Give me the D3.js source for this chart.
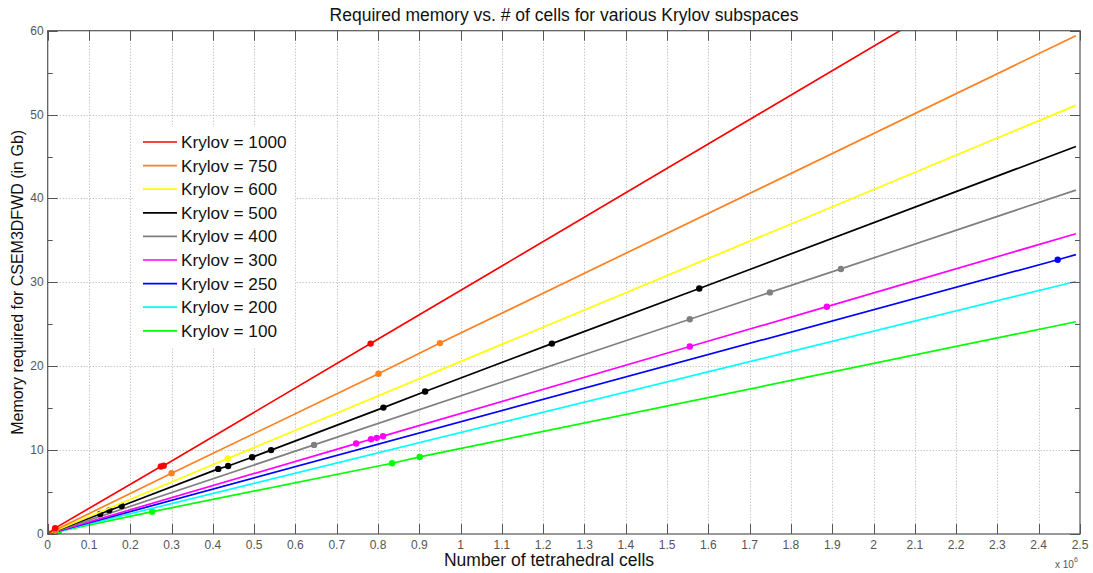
<!DOCTYPE html>
<html>
<head>
<meta charset="utf-8">
<script src="https://cdn.jsdelivr.net/npm/d3@7"></script>
<style>
  body { margin: 0; background: #fff; }
  text { font-family: "Liberation Sans", Arial, sans-serif; }
</style>
</head>
<body>
<div id="chart"></div>
<script>
"use strict";

// data ***********************************************************
var krylov = [1000, 750, 600, 500, 400, 300, 250, 200, 100];
var colors = ["#ff0000", "#ff8020", "#ffff00", "#000000", "#808080", "#ff00ff", "#0000ff", "#00ffff", "#00ff00"];

// y value at the end of each line (x = 2.49e6)
var endX = 2.49;
var endY = [72.4, 59.4, 51.1, 46.2, 41.0, 35.8, 33.3, 30.1, 25.3];

// measured points (x in millions of cells, y in Gb)
var markerX = [
  [0.018, 0.274, 0.281, 0.782],
  [0.020, 0.300, 0.801, 0.950],
  [0.436],
  [0.127, 0.149, 0.179, 0.413, 0.437, 0.495, 0.541, 0.813, 0.914, 1.221, 1.578],
  [0.645, 1.555, 1.749, 1.921],
  [0.747, 0.783, 0.797, 0.812, 1.555, 1.887],
  [2.446],
  [],
  [0.003, 0.027, 0.253, 0.834, 0.901]
];
var markerY = [
  [0.70, 8.05, 8.15, 22.7],
  [0.50, 7.24, 19.1, 22.76],
  [9.0],
  [2.39, 2.82, 3.34, 7.76, 8.11, 9.15, 10.0, 15.07, 16.98, 22.7, 29.27],
  [10.62, 25.6, 28.8, 31.6],
  [10.78, 11.3, 11.46, 11.66, 22.35, 27.1],
  [32.7],
  [],
  [0.05, 0.30, 2.66, 8.43, 9.19]
];

var xTicks = d3.range(0, 26).map(function(d) { return d / 10; });
var yTicks = [0, 10, 20, 30, 40, 50, 60];
var yMinor = [5, 15, 25, 35, 45, 55];

// layout *********************************************************
var width = 1093, height = 573;
var mLeft = 47.7, mRight = 1080, mTop = 30.7, mBottom = 534;
var axisColor = "#555";

var svg = d3.select("#chart").append("svg")
  .attr("width", width)
  .attr("height", height);

var x = d3.scaleLinear().domain([0, 2.5]).range([mLeft, mRight]);
var y = d3.scaleLinear().domain([0, 60]).range([mBottom, mTop]);

// grid
var grid = svg.append("g")
  .attr("stroke", "#b0b0b0")
  .attr("stroke-width", 1)
  .attr("stroke-dasharray", "1,2");
grid.selectAll(".gx").data(xTicks.slice(1, -1)).enter().append("line")
  .attr("x1", function(d) { return Math.round(x(d)) + 0.5; })
  .attr("x2", function(d) { return Math.round(x(d)) + 0.5; })
  .attr("y1", mTop).attr("y2", mBottom);
grid.selectAll(".gy").data(yTicks.slice(1, -1)).enter().append("line")
  .attr("y1", function(d) { return Math.round(y(d)) + 0.5; })
  .attr("y2", function(d) { return Math.round(y(d)) + 0.5; })
  .attr("x1", mLeft).attr("x2", mRight);

// clip for the lines
svg.append("clipPath").attr("id", "plotClip")
  .append("rect")
  .attr("x", mLeft).attr("y", mTop)
  .attr("width", mRight - mLeft).attr("height", mBottom - mTop);

// series ***********************************************************
var line = d3.line()
  .x(function(d) { return x(d[0]); })
  .y(function(d) { return y(d[1]); });

var series = krylov.map(function(k, i) {
  var pts = markerX[i].map(function(v, j) { return [v, markerY[i][j]]; });
  return { k: k, color: colors[i], markers: pts, path: [[0, 0]].concat(pts, [[endX, endY[i]]]) };
});

// draw lowest first so upper lines sit on top like the original
var plot = svg.append("g").attr("clip-path", "url(#plotClip)");
var sg = plot.selectAll(".series")
  .data(series.slice().reverse())
  .enter().append("g");

sg.append("path")
  .attr("d", function(d) { return line(d.path); })
  .attr("fill", "none")
  .attr("stroke", function(d) { return d.color; })
  .attr("stroke-width", 1.7);

sg.selectAll("circle")
  .data(function(d) { return d.markers.map(function(p) { return { p: p, color: d.color }; }); })
  .enter().append("circle")
  .attr("cx", function(d) { return x(d.p[0]); })
  .attr("cy", function(d) { return y(d.p[1]); })
  .attr("r", 3.2)
  .attr("fill", function(d) { return d.color; });

// axes box and ticks *********************************************
var ax = svg.append("g").attr("stroke", axisColor).attr("stroke-width", 1);
ax.append("rect")
  .attr("x", mLeft).attr("y", mTop)
  .attr("width", mRight - mLeft).attr("height", mBottom - mTop)
  .attr("fill", "none").attr("stroke-width", 1.2);

xTicks.forEach(function(t) {
  var px = Math.round(x(t)) + 0.5;
  ax.append("line").attr("x1", px).attr("x2", px).attr("y1", mBottom).attr("y2", mBottom - 10);
  ax.append("line").attr("x1", px).attr("x2", px).attr("y1", mTop).attr("y2", mTop + 10);
});
yTicks.forEach(function(t) {
  var py = Math.round(y(t)) + 0.5;
  ax.append("line").attr("y1", py).attr("y2", py).attr("x1", mLeft).attr("x2", mLeft + 10);
  ax.append("line").attr("y1", py).attr("y2", py).attr("x1", mRight).attr("x2", mRight - 10);
});
yMinor.forEach(function(t) {
  var py = Math.round(y(t)) + 0.5;
  ax.append("line").attr("y1", py).attr("y2", py).attr("x1", mLeft).attr("x2", mLeft + 5);
  ax.append("line").attr("y1", py).attr("y2", py).attr("x1", mRight).attr("x2", mRight - 5);
});

// tick labels
svg.selectAll(".xl").data(xTicks).enter().append("text")
  .attr("x", function(d) { return x(d); })
  .attr("y", mBottom + 15)
  .attr("text-anchor", "middle")
  .attr("font-size", 12)
  .attr("fill", "#555")
  .text(function(d) { return d3.format("~g")(d); });

svg.selectAll(".yl").data(yTicks).enter().append("text")
  .attr("x", mLeft - 4)
  .attr("y", function(d) { return y(d) + 4; })
  .attr("text-anchor", "end")
  .attr("font-size", 12)
  .attr("fill", "#555")
  .text(function(d) { return d; });

// exponent label
var ex = svg.append("text")
  .attr("x", 1055).attr("y", 568)
  .attr("font-size", 10)
  .attr("fill", "#555")
  .text("x 10");
ex.append("tspan").attr("dy", -6).attr("font-size", 7).text("6");

// titles
svg.append("text")
  .attr("x", 564).attr("y", 21)
  .attr("text-anchor", "middle")
  .attr("font-size", 17.5)
  .attr("fill", "#111")
  .text("Required memory vs. # of cells for various Krylov subspaces");

svg.append("text")
  .attr("x", 549).attr("y", 566)
  .attr("text-anchor", "middle")
  .attr("font-size", 17.5)
  .attr("fill", "#111")
  .text("Number of tetrahedral cells");

svg.append("text")
  .attr("transform", "translate(23," + ((mTop + mBottom) / 2) + ") rotate(-90)")
  .attr("text-anchor", "middle")
  .attr("font-size", 16)
  .attr("fill", "#111")
  .text("Memory required for CSEM3DFWD (in Gb)");

// legend ***********************************************************
var legendX = 133, legendY = 127, rowH = 23.6;
svg.append("rect")
  .attr("x", legendX).attr("y", legendY)
  .attr("width", 162).attr("height", 221)
  .attr("fill", "#fff");

var legend = svg.selectAll(".legend")
  .data(series)
  .enter().append("g")
  .attr("class", "legend")
  .attr("transform", function(d, i) {
    return "translate(" + legendX + "," + (legendY + 15 + i * rowH) + ")";
  });

legend.append("line")
  .attr("x1", 10).attr("x2", 44)
  .attr("y1", 0).attr("y2", 0)
  .attr("stroke", function(d) { return d.color; })
  .attr("stroke-width", 1.7);

legend.append("text")
  .attr("x", 48).attr("y", 6)
  .attr("font-size", 17.2)
  .attr("fill", "#111")
  .text(function(d) { return "Krylov = " + d.k; });
</script>
</body>
</html>
